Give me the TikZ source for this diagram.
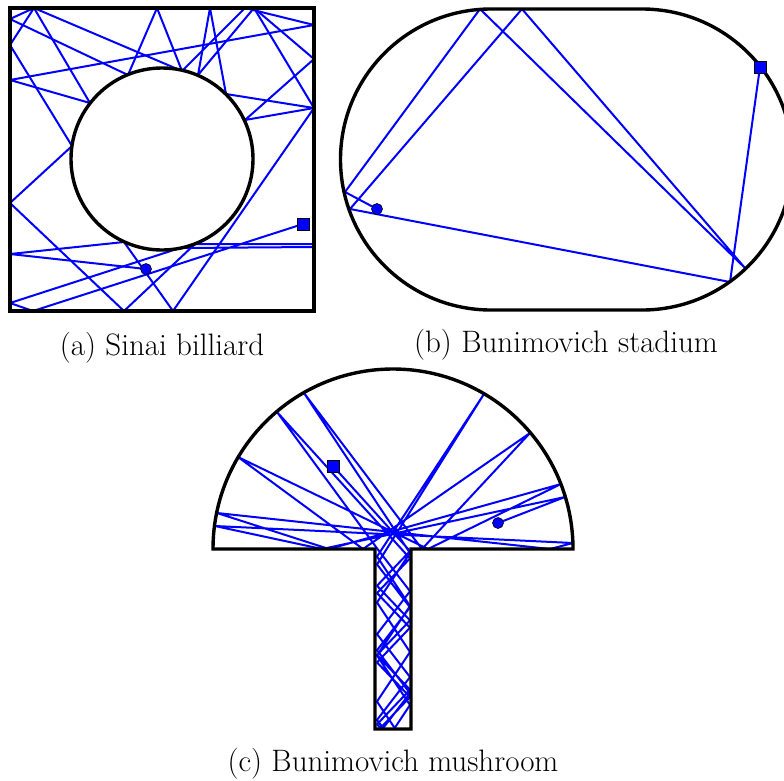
\documentclass[tikz,border=0pt]{standalone}
\begin{document}
\begin{tikzpicture}[x=1pt,y=-1pt,
  wall/.style={line width=3.4pt, black},
  traj/.style={blue, line width=2pt, line join=round},
  dotmark/.style={circle, fill=blue, draw=black, line width=0.6pt, inner sep=0pt, minimum size=11pt},
  sqmark/.style={rectangle, fill=blue, draw=black, line width=0.6pt, inner sep=0pt, minimum size=12pt},
  capt/.style={font=\fontsize{31}{36}\selectfont, anchor=base, inner sep=0pt}]
\useasboundingbox (0,0) rectangle (784,780);
\clip (0,0) rectangle (784,780);

% ---------- (a) Sinai billiard ----------
\draw[traj] (10,19) -- (34,8) -- (10,45) -- (72,146) -- (10,203) -- (124,311) -- (195,244) -- (314,244);
\draw[traj] (34,8) -- (90,103) -- (10,80) -- (314,25);
\draw[traj] (10,19) -- (128,75) -- (157,8) -- (182,71) -- (34,8);
\draw[traj] (210,8) -- (198,75) -- (254,8) -- (314,59) -- (245,120) -- (314,108) -- (226,94) -- (210,8);
\draw[traj] (182,71) -- (245,8) -- (314,25);
\draw[traj] (254,8) -- (314,108) -- (173,311) -- (124,242) -- (10,254) -- (146,269);
\draw[traj] (314,247) -- (180,248) -- (10,303) -- (33,311) -- (303,224);
\draw[wall] (10,8) rectangle (314,311);
\draw[wall, fill=white] (162,159) circle[radius=91pt];
\node[dotmark] (sa) at (146,269) {};
\node[sqmark] (qa) at (303,224) {};
\node[capt] (capa) at (162,355) {(a) Sinai billiard};

% ---------- (b) Bunimovich stadium ----------
\draw[traj] (760,67) -- (730,282) -- (350,209) -- (522,9) -- (745,268) -- (480,9) -- (345,192) -- (377,209);
\draw[wall] (491,9) -- (642,9) arc[start angle=90, end angle=-90, radius=150.5pt] -- (491,310) arc[start angle=270, end angle=90, radius=150.5pt] -- cycle;
\node[dotmark] (sb) at (377,209) {};
\node[sqmark] (qb) at (760,67) {};
\node[capt] (capb) at (566,352) {(b) Bunimovich stadium};

% ---------- (c) Bunimovich mushroom ----------
\draw[traj] (333,466) -- (410,551.1) -- (377,585.75) -- (410,620.4) -- (377,655.05) -- (410,689.7) -- (377,724.35) -- (380.5,728)
  -- (410,697) -- (377,662.35) -- (410,627.7) -- (377,593.05) -- (410,558.4) -- (277,412)
  -- (377.5,549) -- (410,591.25) -- (377,634.15) -- (410,677.05) -- (377,719.95) -- (383.2,728)
  -- (410,693.1) -- (377,650.2) -- (410,607.3) -- (377,564.4) -- (484,394)
  -- (377,556.5) -- (410,606) -- (377,655.5) -- (410,705) -- (394.7,728)
  -- (377,701.5) -- (410,652) -- (377,602.5) -- (410,553) -- (304,393)
  -- (422,549) -- (530,433) -- (363,549) -- (238,457) -- (428,549) -- (561,484) -- (329,549)
  -- (217,513) -- (550,549) -- (573,543) -- (215,526) -- (322,549) -- (565,497) -- (498,523);
\draw[wall] (375,729) -- (375,549) -- (213,549) arc[start angle=180, end angle=0, radius=180pt] -- (411,549) -- (411,729) -- cycle;
\node[dotmark] (sc) at (498,523) {};
\node[sqmark] (qc) at (333,466) {};
\node[capt] (capc) at (393,771) {(c) Bunimovich mushroom};
\end{tikzpicture}
\end{document}
